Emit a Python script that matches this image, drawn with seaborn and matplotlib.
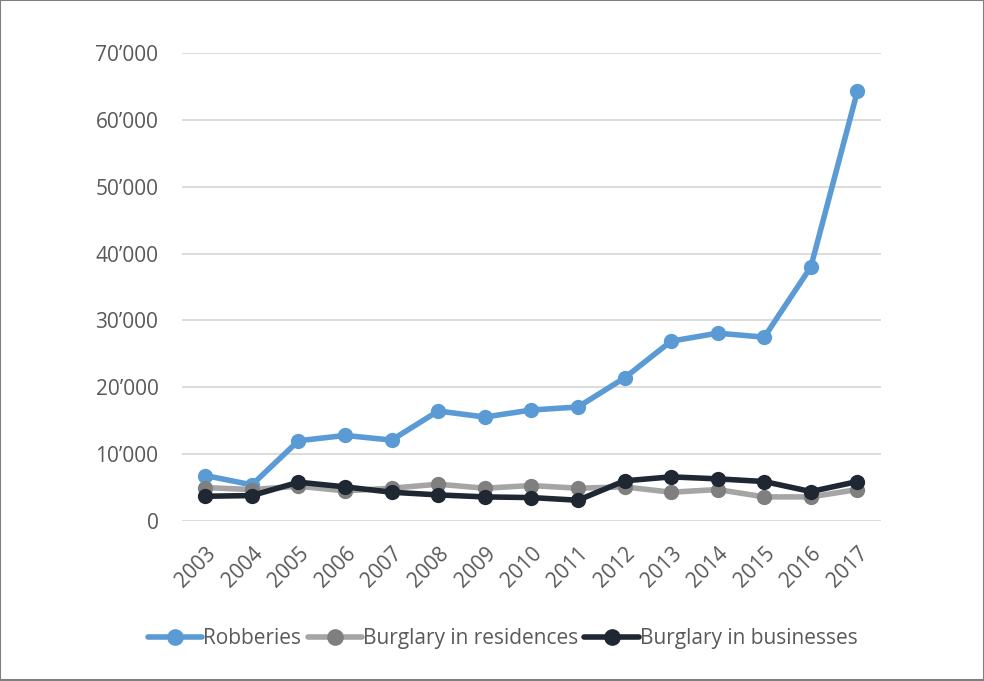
import matplotlib
matplotlib.use("Agg")
import matplotlib.pyplot as plt
from matplotlib.ticker import FuncFormatter, MultipleLocator
from matplotlib.patches import Rectangle
import seaborn as sns
import pandas as pd

years = [str(y) for y in range(2003, 2018)]
robberies = [6800, 5400, 12000, 12800, 12100, 16450, 15550, 16600, 17050,
             21400, 26900, 28100, 27500, 38000, 64300]
residences = [5000, 4700, 5200, 4500, 4900, 5500, 4900, 5300, 4900,
              5100, 4300, 4700, 3600, 3600, 4700]
businesses = [3700, 3800, 5800, 5100, 4300, 3900, 3600, 3500, 3100,
              6000, 6600, 6300, 5900, 4400, 5900]
series_names = ["Robberies", "Burglary in residences", "Burglary in businesses"]

df = pd.concat([
    pd.DataFrame({"year": years, "count": vals, "series": name})
    for name, vals in zip(series_names, [robberies, residences, businesses])
], ignore_index=True)

line_colors = {"Robberies": "#5B9BD5",
               "Burglary in residences": "#A5A5A5",
               "Burglary in businesses": "#1F2733"}
marker_colors = {"Robberies": "#5B9BD5",
                 "Burglary in residences": "#7F7F7F",
                 "Burglary in businesses": "#1F2733"}

sns.set_style("white")
plt.rcParams["font.family"] = ["Open Sans", "DejaVu Sans"]

fig = plt.figure(figsize=(9.84, 6.81), dpi=100)
ax = fig.add_axes([0.185, 0.235, 0.710, 0.687])

sns.lineplot(data=df, x="year", y="count", hue="series", hue_order=series_names,
             palette=line_colors, marker="o", markersize=11, linewidth=4,
             markeredgewidth=0, sort=False, ax=ax, legend=False, zorder=3)

for line, name in zip(ax.get_lines(), series_names):
    line.set_markerfacecolor(marker_colors[name])
    line.set_markeredgecolor(marker_colors[name])

ax.set_xlim(-0.5, len(years) - 0.5)
ax.set_ylim(0, 70000)
ax.yaxis.set_major_locator(MultipleLocator(10000))
ax.yaxis.set_major_formatter(FuncFormatter(lambda v, p: f"{int(v):,}".replace(",", "\u2019")))
ax.grid(axis="y", color="#D9D9D9", linewidth=1.3, zorder=0)
ax.grid(axis="x", visible=False)
for s in ax.spines.values():
    s.set_visible(False)
ax.set_xlabel("")
ax.set_ylabel("")
ax.tick_params(axis="both", length=0, colors="#595959", labelsize=15)
ax.tick_params(axis="y", pad=17)
ax.tick_params(axis="x", pad=16)
for lab in ax.get_xticklabels():
    lab.set_rotation(45)
    lab.set_ha("right")
    lab.set_rotation_mode("anchor")

handles = [plt.Line2D([], [], color=line_colors[n], linewidth=4, marker="o",
                      markersize=11, markerfacecolor=marker_colors[n],
                      markeredgecolor=marker_colors[n]) for n in series_names]
fig.legend(handles, series_names, loc="center", bbox_to_anchor=(0.511, 0.062),
           ncol=3, frameon=False, fontsize=15, handlelength=2.6,
           handletextpad=0.05, columnspacing=0.3, labelcolor="#595959")

fig.patches.append(Rectangle((0.0005, 0.0008), 0.999, 0.9985, transform=fig.transFigure,
                             fill=False, edgecolor="#7F7F7F", linewidth=1.5))

fig.savefig("out.png", dpi=100)
